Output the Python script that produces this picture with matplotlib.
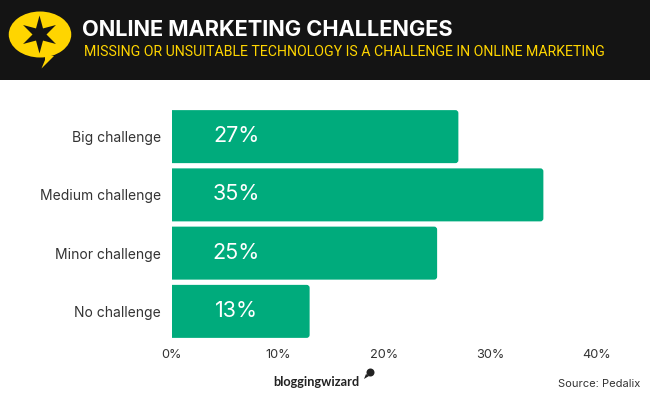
import matplotlib
matplotlib.use("Agg")
import matplotlib.pyplot as plt
from matplotlib.patches import Ellipse, FancyBboxPatch, Polygon, Rectangle, Circle
import numpy as np

categories = ["Big challenge", "Medium challenge", "Minor challenge", "No challenge"]
values = [27, 35, 25, 13]
xticks = [0, 10, 20, 30, 40]

W, H = 650, 400
GREEN = "#00ab7c"
YELLOW = "#ffd500"
DARK = "#141414"
TEXT = "#333333"

plt.rcParams["font.family"] = ["Inter", "DejaVu Sans"]

fig = plt.figure(figsize=(W / 100, H / 100), dpi=100, facecolor="white")

# pixel overlay for the header, logo and footer
bg = fig.add_axes([0, 0, 1, 1])
bg.set_xlim(0, W)
bg.set_ylim(H, 0)
bg.axis("off")
bg.add_patch(Rectangle((0, 0), W, 80, color=DARK, lw=0))
bg.add_patch(Ellipse((40, 34.5), 62.5, 46, color=YELLOW, lw=0))
bg.add_patch(Polygon([(45, 55), (45, 60), (41.5, 68.5), (54, 56)], color=YELLOW, lw=0))
# six pointed star in the bubble
angles = np.deg2rad(np.arange(0, 360, 30) - 90)
radii = np.array([19, 7] * 6)
star = np.column_stack((39.5 + radii * np.cos(angles), 34.5 + radii * np.sin(angles)))
bg.add_patch(Polygon(star, color=DARK, lw=0))

bg.text(82, 30.5, "ONLINE MARKETING CHALLENGES", color="white", fontsize=15.7,
        fontweight="bold", va="center", ha="left")
bg.text(84.5, 51.5, "MISSING OR UNSUITABLE TECHNOLOGY IS A CHALLENGE IN ONLINE MARKETING",
        color=YELLOW, fontsize=10.2, family=["Roboto", "DejaVu Sans"], va="center", ha="left")

bg.text(273, 382, "bloggingwizard", color="#222222", fontsize=9.2, fontweight="bold",
        family=["Lato", "DejaVu Sans"], va="center", ha="left")
bg.add_patch(Circle((370.5, 372.5), 4, color="#222222", lw=0))
bg.add_patch(Polygon([(366, 374), (369, 376), (364, 379)], color="#222222", lw=0))
bg.text(640, 384, "Source: Pedalix", color=TEXT, fontsize=8, va="center", ha="right")

# chart axes: 0% at x=171, 40% at x=596
ax = fig.add_axes([171.5 / W, 1 - 340.5 / H, (596 - 171) / W, (340.5 - 107.5) / H])
ax.patch.set_alpha(0)
y = np.arange(len(categories))
bars = ax.barh(y, values, height=0.91, color=GREEN)
ax.set_xlim(0, 40)
ax.set_ylim(len(categories) - 0.5, -0.5)
ax.set_yticks(y, categories)
ax.set_xticks(xticks, [f"{t}%" for t in xticks])
ax.tick_params(length=0, labelcolor=TEXT)
ax.tick_params(axis="x", pad=6, labelsize=9.2)
ax.tick_params(axis="y", pad=7.5, labelsize=10)
for s in ax.spines.values():
    s.set_visible(False)

# swap each bar for a copy with rounded corners; starting left of 0 keeps the left side square
aspect = (425 / 40) / (233 / 4)
for bar in bars:
    bar.set_visible(False)
    rounded = FancyBboxPatch((-1, bar.get_y()), bar.get_width() + 1, bar.get_height(),
                             boxstyle="round,pad=0,rounding_size=0.28",
                             mutation_aspect=aspect, color=GREEN, lw=0)
    ax.add_patch(rounded)

for i, v in enumerate(values):
    ax.text(6.1, i - 0.01, f"{v}%", color="white", fontsize=15.5, ha="center", va="center")

fig.savefig("out.png", dpi=100)
